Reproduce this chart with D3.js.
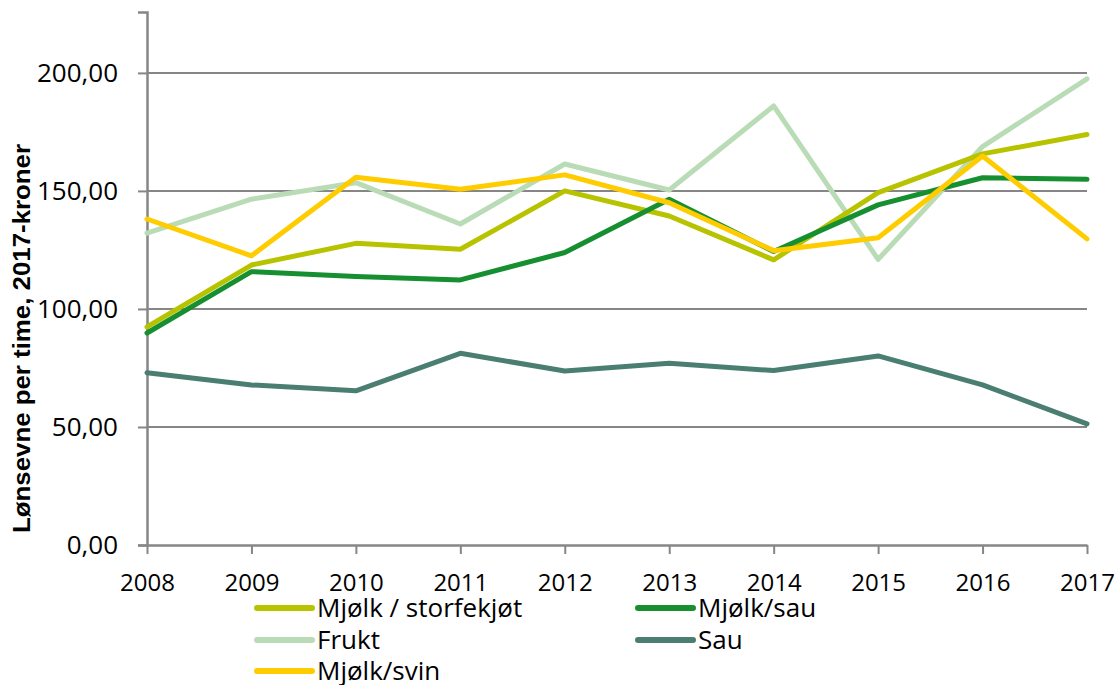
<!DOCTYPE html>
<html>
<head>
<meta charset="utf-8">
<script src="https://cdn.jsdelivr.net/npm/d3@7"></script>
<style>
  body { margin: 0; background: #fff; }
  text { font-family: "Open Sans", sans-serif; }
</style>
</head>
<body>
<div id="chart"></div>
<script>
// Data
const years = [2008, 2009, 2010, 2011, 2012, 2013, 2014, 2015, 2016, 2017];
const seriesNames = ["Mjølk / storfekjøt", "Mjølk/sau", "Frukt", "Sau", "Mjølk/svin"];
const mjolkStorfe = [92.4, 118.6, 127.8, 125.3, 150.0, 139.4, 120.8, 149.3, 165.7, 173.9];
const mjolkSau = [89.8, 115.8, 113.7, 112.3, 123.9, 146.5, 124.3, 144.1, 155.6, 154.9];
const frukt = [132.1, 146.5, 153.5, 136.0, 161.4, 150.4, 186.0, 121.0, 168.8, 197.5];
const sau = [73.0, 67.8, 65.3, 81.2, 73.7, 77.0, 73.9, 80.1, 67.8, 51.3];
const mjolkSvin = [138.1, 122.5, 155.8, 150.7, 156.8, 145.0, 124.7, 130.2, 164.8, 129.7];
const yTicks = [0, 50, 100, 150, 200];
const colors = ["#b8c300", "#168f30", "#b9dcb6", "#4a7e70", "#ffcc00"];

function drawLineChart(chartId) {
    const allSeries = [mjolkStorfe, mjolkSau, frukt, sau, mjolkSvin];
    // draw order: the light series sits under the others
    const drawOrder = [2, 3, 0, 1, 4];

    const margin = {left: 147, top: 12},
        width = 940,
        height = 533;

    const svg = d3.select(chartId).append('svg')
        .attr('width', 1118)
        .attr('height', 685)
        .append('g')
        .attr('transform', 'translate(' + margin.left + ',' + margin.top + ')');

    // Scales
    const x = d3.scalePoint()
        .domain(years)
        .range([0, width]);

    const y = d3.scaleLinear()
        .domain([0, 225.8])
        .range([height, 0]);

    const fmt = d => d3.format('.2f')(d).replace('.', ',');

    // Gridlines
    svg.append('g')
        .selectAll('line')
        .data(yTicks.filter(d => d > 0))
        .enter().append('line')
        .attr('x1', 0)
        .attr('x2', width)
        .attr('y1', d => y(d))
        .attr('y2', d => y(d))
        .attr('stroke', '#868686')
        .attr('stroke-width', 2);

    // Y axis
    const yAxis = svg.append('g')
        .call(d3.axisLeft(y).tickValues(yTicks).tickSize(9).tickPadding(20).tickFormat(fmt));
    yAxis.select('.domain').attr('stroke', '#868686').attr('stroke-width', 2.5);
    yAxis.selectAll('.tick line').attr('stroke', '#868686').attr('stroke-width', 2);
    yAxis.selectAll('text')
        .attr('fill', '#000')
        .style('font-family', '"Open Sans", sans-serif')
        .style('font-size', '26px');

    // X axis
    const xAxis = svg.append('g')
        .attr('transform', 'translate(0,' + height + ')')
        .call(d3.axisBottom(x).tickSize(9).tickPadding(20).tickSizeOuter(0));
    xAxis.select('.domain').attr('stroke', '#868686').attr('stroke-width', 2.5);
    xAxis.selectAll('.tick line').attr('stroke', '#868686').attr('stroke-width', 2);
    xAxis.selectAll('text')
        .attr('fill', '#000')
        .style('font-family', '"Open Sans", sans-serif')
        .style('font-size', '24px');

    // Y axis title
    svg.append('text')
        .attr('transform', 'translate(' + (-117) + ',' + 326.5 + ') rotate(-90) scale(1.1,1)')
        .attr('text-anchor', 'middle')
        .style('font-family', '"Liberation Sans", Arial, sans-serif')
        .style('font-size', '23.5px')
        .style('font-weight', 'bold')
        .text('Lønsevne per time, 2017-kroner');

    // Lines
    const line = d3.line()
        .x((d, i) => x(years[i]))
        .y(d => y(d));

    drawOrder.forEach(function (k) {
        svg.append('path')
            .datum(allSeries[k])
            .attr('fill', 'none')
            .attr('stroke', colors[k])
            .attr('stroke-width', 5)
            .attr('stroke-linejoin', 'round')
            .attr('stroke-linecap', 'round')
            .attr('d', line);
    });

    // Legend
    const legendPos = [[110, 608], [491, 608], [110, 640], [491, 640], [110, 671]];
    const legend = svg.append('g')
        .selectAll('g')
        .data(seriesNames)
        .enter().append('g')
        .attr('transform', (d, i) => 'translate(' + legendPos[i][0] + ',' + (legendPos[i][1] - margin.top) + ')');

    legend.append('line')
        .attr('x1', 0)
        .attr('x2', 55)
        .attr('stroke', (d, i) => colors[i])
        .attr('stroke-width', 6)
        .attr('stroke-linecap', 'round');

    legend.append('text')
        .attr('x', 60)
        .attr('dy', '0.36em')
        .style('font-size', '26px')
        .text(d => d);
}

drawLineChart('#chart');
</script>
</body>
</html>
